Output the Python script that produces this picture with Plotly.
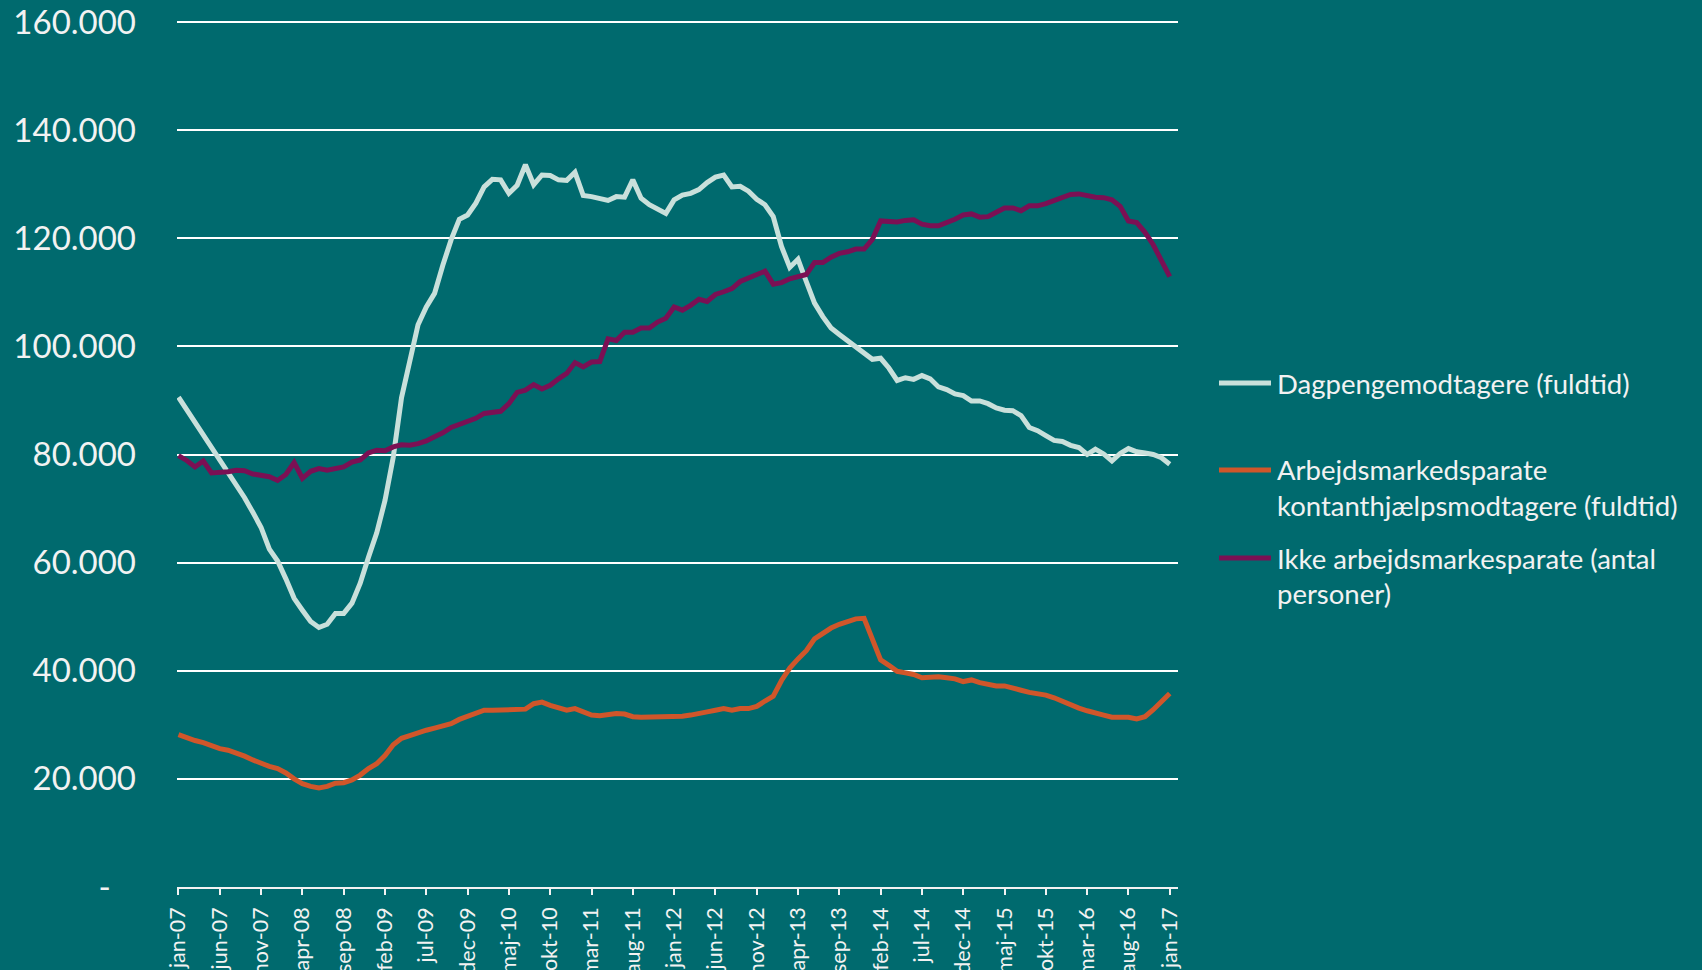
import plotly.graph_objects as go

# ---- data (thousands of persons, monthly jan-07 .. jan-17) ----
month_names = ["jan", "feb", "mar", "apr", "maj", "jun", "jul", "aug", "sep", "okt", "nov", "dec"]
categories = []
for yy in range(7, 18):
    for m in month_names:
        categories.append(f"{m}-{yy:02d}")
categories = categories[:121]

dagpenge = [
    90.6, 88.3, 86.0, 83.5, 81.0, 78.8, 76.8, 74.5, 72.0, 69.3,
    66.5, 62.5, 60.3, 57.0, 53.4, 51.2, 49.1, 48.0, 48.6, 50.6,
    50.6, 52.5, 56.2, 61.0, 65.5, 71.5, 79.5, 90.5, 97.0, 104.0,
    107.3, 109.8, 115.0, 119.7, 123.5, 124.3, 126.5, 129.5, 130.9, 130.8,
    128.3, 129.8, 133.6, 129.9, 131.7, 131.6, 130.8, 130.7, 132.2, 127.9,
    127.7, 127.3, 127.0, 127.7, 127.6, 130.8, 127.4, 126.2, 125.4, 124.6,
    127.1, 128.0, 128.3, 129.0, 130.3, 131.3, 131.7, 129.5, 129.6, 128.7,
    127.2, 126.2, 124.0, 118.5, 114.6, 116.1, 112.0, 108.0, 105.5, 103.4,
    102.2, 101.0, 100.0, 98.6, 97.6, 97.8, 96.0, 93.7, 94.2, 93.9,
    94.6, 94.0, 92.5, 92.0, 91.2, 90.9, 89.9, 89.9, 89.4, 88.6,
    88.2, 88.1, 87.2, 85.0, 84.4, 83.5, 82.6, 82.4, 81.7, 81.3,
    80.0, 81.0, 80.1, 78.8, 80.2, 81.1, 80.5, 80.3, 80.0, 79.4,
    78.2,
]

kontanthjaelp = [
    28.2, 27.6, 27.1, 26.7, 26.1, 25.6, 25.3, 24.8, 24.2, 23.5,
    22.8, 22.3, 21.9, 21.1, 20.0, 19.1, 18.6, 18.3, 18.6, 19.2,
    19.3, 19.8, 20.7, 21.9, 22.8, 24.3, 26.3, 27.5, 28.0, 28.6,
    29.0, 29.4, 29.7, 30.2, 31.0, 31.5, 32.2, 32.7, 32.7, 32.8,
    32.9, 32.9, 32.9, 33.9, 34.2, 33.6, 33.1, 32.7, 33.0, 32.4,
    31.8, 31.7, 32.0, 32.1, 32.0, 31.5, 31.4, 31.4, 31.4, 31.4,
    31.5, 31.6, 31.8, 32.2, 32.4, 32.7, 33.0, 32.7, 33.0, 33.0,
    33.4, 34.4, 35.3, 38.2, 40.5, 42.2, 43.7, 45.9, 46.9, 47.9,
    48.6, 49.0, 49.6, 49.7, 45.9, 42.0, 41.0, 39.9, 39.6, 39.3,
    38.7, 38.8, 38.9, 38.7, 38.5, 38.0, 38.3, 37.8, 37.4, 37.2,
    37.2, 36.9, 36.4, 36.0, 35.8, 35.5, 35.0, 34.3, 33.8, 33.1,
    32.6, 32.3, 31.8, 31.4, 31.5, 31.4, 31.1, 31.5, 32.8, 34.2,
    35.8,
]

ikke_parate = [
    79.8, 78.9, 77.7, 78.8, 76.6, 76.6, 76.8, 77.1, 77.0, 76.4,
    76.1, 75.9, 75.2, 76.3, 78.5, 75.6, 76.9, 77.4, 77.1, 77.3,
    77.7, 78.6, 79.0, 80.3, 80.8, 80.7, 81.4, 81.8, 81.7, 82.0,
    82.5, 83.3, 84.0, 85.0, 85.5, 86.1, 86.7, 87.6, 87.8, 88.0,
    89.4, 91.5, 91.9, 92.9, 92.1, 92.8, 94.0, 95.0, 97.0, 96.2,
    97.1, 97.2, 101.4, 101.1, 102.6, 102.6, 103.4, 103.4, 104.5, 105.2,
    107.3, 106.7, 107.6, 108.7, 108.3, 109.6, 110.1, 110.7, 112.0, 112.6,
    113.2, 113.9, 111.5, 111.8, 112.5, 112.9, 113.3, 115.5, 115.5, 116.5,
    117.2, 117.5, 118.0, 118.0, 119.8, 123.2, 123.2, 123.0, 123.3, 123.4,
    122.6, 122.3, 122.3, 122.8, 123.5, 124.3, 124.5, 123.9, 124.0, 124.8,
    125.6, 125.6, 125.1, 126.0, 126.0, 126.4, 126.9, 127.4, 128.1, 128.2,
    127.8, 127.6, 127.5, 127.1, 125.9, 123.2, 122.9, 121.1, 118.8, 115.8,
    112.9,
]

series_names = [
    "Dagpengemodtagere (fuldtid)",
    "Arbejdsmarkedsparate kontanthjælpsmodtagere (fuldtid)",
    "Ikke arbejdsmarkesparate (antal personer)",
]
legend_lines = [
    ["Dagpengemodtagere (fuldtid)"],
    ["Arbejdsmarkedsparate", "kontanthjælpsmodtagere (fuldtid)"],
    ["Ikke arbejdsmarkesparate (antal", "personer)"],
]
y_tickvals = [0, 20000, 40000, 60000, 80000, 100000, 120000, 140000, 160000]
y_ticktext = ["-\u00a0\u00a0\u00a0", "20.000", "40.000", "60.000", "80.000",
              "100.000", "120.000", "140.000", "160.000"]

# ---- style ----
BG = "#006A6E"
colors = ["#C9E0DB", "#D0562A", "#7B1054"]
FONT = "Lato"
W, H = 1702, 970
L, R, T, B = 177, 524, 20, 83
Y_TOP = 160000 * (H - T - B) / 865.0

fig = go.Figure()
for name, vals, col in zip(series_names, [dagpenge, kontanthjaelp, ikke_parate], colors):
    fig.add_trace(go.Scatter(
        x=categories, y=[v * 1000 for v in vals], mode="lines", name=name,
        line=dict(color=col, width=5), showlegend=False,
    ))

# manual legend
plot_w = W - L - R
plot_h = H - T - B
def px_x(px):
    return (px - L) / plot_w
def px_y(py):
    return (H - B - py) / plot_h

legend_y = [[383], [470, 506], [558, 593]]
for lines, ys, col in zip(legend_lines, legend_y, colors):
    fig.add_shape(type="line", xref="paper", yref="paper",
                  x0=px_x(1219), x1=px_x(1271), y0=px_y(ys[0]), y1=px_y(ys[0]),
                  line=dict(color=col, width=5))
    for txt, yy in zip(lines, ys):
        fig.add_annotation(text=txt, xref="paper", yref="paper",
                           x=px_x(1275), y=px_y(yy), xanchor="left", yanchor="middle",
                           showarrow=False, font=dict(family=FONT, size=27.5, color="#F2F2F2"))

fig.update_layout(
    width=W, height=H, template="none",
    paper_bgcolor=BG, plot_bgcolor=BG,
    margin=dict(l=L, r=R, t=T, b=B, autoexpand=False),
    font=dict(family=FONT, color="#F2F2F2"),
    showlegend=False,
)
fig.update_xaxes(
    type="category", categoryorder="array", categoryarray=categories,
    range=[-0.18, 121.0], automargin=False,
    tickmode="array", tickvals=categories[::5], ticktext=categories[::5],
    tickangle=-90, tickfont=dict(family=FONT, size=21.5, color="#F2F2F2"),
    ticks="outside", ticklen=6, tickwidth=1.5, tickcolor="#F2F2F2",
    ticklabelstandoff=4,
    showline=True, linecolor="#F2F2F2", linewidth=1.5,
    showgrid=False, zeroline=False,
)
fig.update_yaxes(
    range=[0, Y_TOP], automargin=False,
    tickmode="array", tickvals=y_tickvals, ticktext=y_ticktext,
    tickfont=dict(family=FONT, size=33, color="#F2F2F2"),
    ticks="", ticklabelstandoff=40,
    showgrid=True, gridcolor="#FFFFFF", gridwidth=1.5,
    zeroline=False, showline=False,
)

fig.write_html(
    "out.html",
    config={"displayModeBar": False},
    post_script="document.body.style.margin='0';document.body.style.overflow='hidden';",
)
